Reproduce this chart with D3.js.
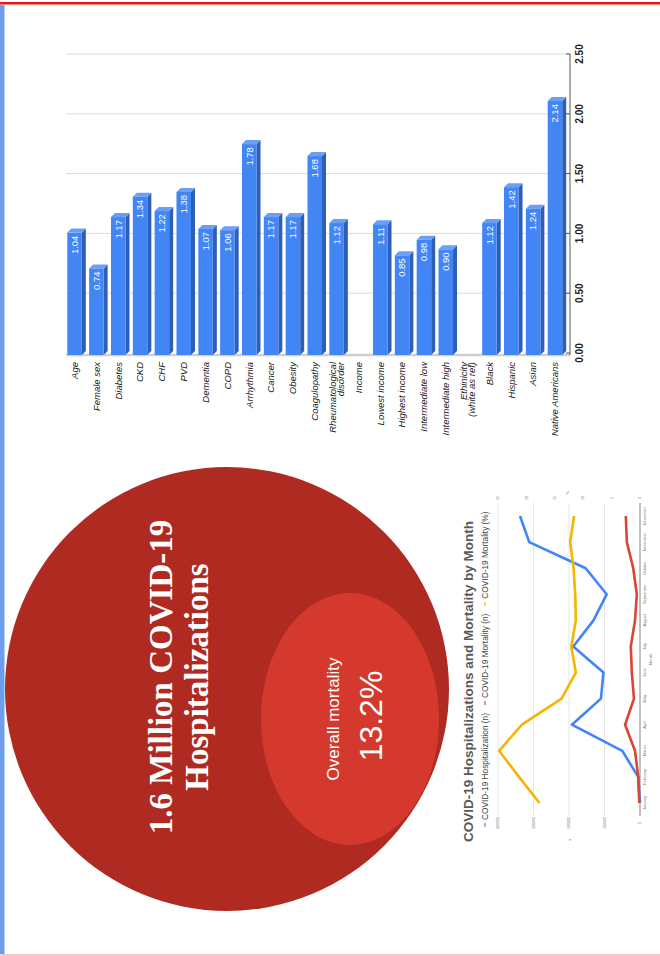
<!DOCTYPE html>
<html><head><meta charset="utf-8">
<script src="https://cdn.jsdelivr.net/npm/d3@7/dist/d3.min.js"></script>
<style>body{margin:0;background:#fff}svg{display:block}</style>
</head><body>
<svg id="c" width="660" height="956"></svg>
<script>
// ---------- data ----------
const categories = ["Age","Female sex","Diabetes","CKD","CHF","PVD","Dementia","COPD","Arrhythmia","Cancer","Obesity","Coagulopathy","Rheumatological|disorder","Income","Lowest income","Highest income","Intermediate low","Intermediate high","Ethinicity|(white as ref)","Black","Hispanic","Asian","Native Americans"];
const oddsRatios = [1.04,0.74,1.17,1.34,1.22,1.38,1.07,1.06,1.78,1.17,1.17,1.68,1.12,null,1.11,0.85,0.98,0.90,null,1.12,1.42,1.24,2.14];
const orTicks = [0,0.5,1,1.5,2,2.5];

const months = ["January","February","March","April","May","June","July","August","September","October","November","December"];
const hospitalizations = [0,5000,50000,192000,110000,103000,188000,131000,94000,153000,312000,338000];
const mortalityN = [2000,5000,14000,42000,17000,23000,26000,14000,9000,19000,37000,40000];
const mortalityPct = [17.7,21.3,24.8,20.8,13.8,11.3,12.1,11.3,11.4,11.7,12.3,11.6];
const nTicks = [0,100000,200000,300000,400000];
const pctTicks = [0,5,10,15,20,25];
const seriesNames = ["COVID-19 Hospitalization (n)","COVID-19 Mortality (n)","COVID-19 Mortality (%)"];
const seriesColors = ["#4285f4","#db4437","#f4b400"];
const lineTitle = "COVID-19 Hospitalizations and Mortality by Month";

const totalLabel = ["1.6 Million COVID-19","Hospitalizations"];
const mortalityLabel = ["Overall mortality","13.2%"];

// ---------- frame ----------
const svg = d3.select("#c");
svg.append("rect").attr("x",0).attr("y",0).attr("width",660).attr("height",956).attr("fill","#fff");
svg.append("rect").attr("x",0).attr("y",2).attr("width",660).attr("height",2.5).attr("fill","#e8141c");
svg.append("rect").attr("x",0).attr("y",5).attr("width",4.5).attr("height",951).attr("fill","#6d9eeb");
svg.append("rect").attr("x",0).attr("y",954).attr("width",660).attr("height",2).attr("fill","#f4cccc");

// ---------- bar chart ----------
const x = d3.scaleBand().domain(categories).range([67.3,562.2]).paddingInner(0.335).paddingOuter(0);
const y = d3.scaleLinear().domain([0,2.5]).range([353,54]);
const base = 355, dep = 4, bw = x.bandwidth();
const bc = svg.append("g");
bc.selectAll(".grid").data(orTicks.slice(1)).join("line")
  .attr("x1",66).attr("x2",570).attr("y1",d=>y(d)).attr("y2",d=>y(d))
  .attr("stroke","#dcdcdc").attr("stroke-width",1);
bc.append("line").attr("x1",66).attr("x2",570).attr("y1",base).attr("y2",base).attr("stroke","#cfcfcf").attr("stroke-width",2.5);
bc.append("line").attr("x1",570).attr("x2",570).attr("y1",y(2.5)).attr("y2",base).attr("stroke","#555").attr("stroke-width",1);
bc.selectAll(".tk").data(orTicks).join("line")
  .attr("x1",566).attr("x2",570).attr("y1",d=>y(d)).attr("y2",d=>y(d)).attr("stroke","#555");
bc.selectAll(".tl").data(orTicks).join("text")
  .attr("transform",d=>`translate(583,${y(d)}) rotate(-90)`)
  .attr("text-anchor","middle").attr("font-family","Liberation Sans, Arial").attr("font-weight","bold")
  .attr("font-size",10).attr("fill","#222").text(d=>d.toFixed(2));

const bars = categories.map((c,i)=>({c,v:oddsRatios[i]})).filter(d=>d.v!=null);
const bg = bc.selectAll(".bar").data(bars).join("g");
bg.append("path").attr("fill","#2d5fb6").attr("d",d=>{const x0=x(d.c)+bw,t=y(d.v);return `M${x0},${t+dep}L${x0+dep},${t}L${x0+dep},${base-dep}L${x0},${base}Z`;});
bg.append("path").attr("fill","#6a9ff7").attr("d",d=>{const x0=x(d.c),t=y(d.v);return `M${x0},${t+dep}L${x0+dep},${t}L${x0+bw+dep},${t}L${x0+bw},${t+dep}Z`;});
bg.append("rect").attr("fill","#4285f4").attr("x",d=>x(d.c)).attr("width",bw).attr("y",d=>y(d.v)+dep).attr("height",d=>base-y(d.v)-dep);
bg.append("text").attr("transform",d=>`translate(${x(d.c)+bw/2},${y(d.v)+dep+3}) rotate(-90)`)
  .attr("text-anchor","end").attr("dy","0.35em").attr("font-family","Liberation Sans, Arial")
  .attr("font-size",9.5).attr("fill","#fff").text(d=>d.v.toFixed(2));

categories.forEach(c=>{
  const lines=c.split("|"), n=lines.length;
  lines.forEach((ln,j)=>{
    const off=(j-(n-1)/2)*8.5;
    bc.append("text").attr("transform",`translate(${x(c)+bw/2+off},362) rotate(-90)`)
      .attr("text-anchor","end").attr("dy","0.35em").attr("font-family","Liberation Sans, Arial")
      .attr("font-style","italic").attr("font-size",9.5).attr("fill","#222").text(ln);
  });
});

// ---------- circles ----------
svg.append("circle").attr("cx",227).attr("cy",689).attr("r",222).attr("fill","#af2a20");
svg.append("ellipse").attr("cx",350).attr("cy",719).attr("rx",89).attr("ry",126).attr("fill","#d5392d");
svg.append("text").attr("transform","translate(172,677) rotate(-90)").attr("text-anchor","middle")
  .attr("font-family","Liberation Serif, Times New Roman").attr("font-weight","bold").attr("font-size",33)
  .attr("fill","#fff").text(totalLabel[0]);
svg.append("text").attr("transform","translate(208,677) rotate(-90)").attr("text-anchor","middle")
  .attr("font-family","Liberation Serif, Times New Roman").attr("font-weight","bold").attr("font-size",33)
  .attr("fill","#fff").text(totalLabel[1]);
svg.append("text").attr("transform","translate(339,719) rotate(-90)").attr("text-anchor","middle")
  .attr("font-family","Liberation Sans, Arial").attr("font-size",17).attr("fill","#fff").text(mortalityLabel[0]);
svg.append("text").attr("transform","translate(382,716) rotate(-90)").attr("text-anchor","middle")
  .attr("font-family","Liberation Sans, Arial").attr("font-size",32).attr("fill","#fff").text(mortalityLabel[1]);

// ---------- line chart (rotated) ----------
const lc = svg.append("g").attr("transform","translate(455,850) rotate(-90)");
const xm = d3.scalePoint().domain(months).range([34,347]).padding(0.5);
const yn = d3.scaleLinear().domain([0,400000]).range([185,43]);
const yp = d3.scaleLinear().domain([0,25]).range([185,43]);
lc.selectAll(".g").data(nTicks.slice(1)).join("line")
  .attr("x1",34).attr("x2",347).attr("y1",d=>yn(d)).attr("y2",d=>yn(d)).attr("stroke","#e0e0e0").attr("stroke-width",0.8);
lc.append("line").attr("x1",34).attr("x2",347).attr("y1",yn(0)).attr("y2",yn(0)).attr("stroke","#666").attr("stroke-width",0.8);
lc.selectAll(".nl").data(nTicks).join("text").attr("x",27).attr("y",d=>yn(d)).attr("dy","0.35em")
  .attr("text-anchor","middle").attr("font-family","Liberation Sans, Arial").attr("font-size",3.6).attr("fill","#777").text(d=>d);
lc.selectAll(".pl").data(pctTicks).join("text").attr("x",352).attr("y",d=>yp(d)).attr("dy","0.35em")
  .attr("text-anchor","middle").attr("font-family","Liberation Sans, Arial").attr("font-size",3.6).attr("fill","#777").text(d=>d);
lc.selectAll(".ml").data(months).join("text").attr("x",d=>xm(d)).attr("y",191)
  .attr("text-anchor","middle").attr("font-family","Liberation Sans, Arial").attr("font-size",4).attr("fill","#777").text(d=>d);
lc.append("text").attr("x",xm("June")+13).attr("y",197).attr("text-anchor","middle").attr("font-family","Liberation Sans, Arial").attr("font-size",4).attr("fill","#777").text("Month");
lc.append("text").attr("x",10).attr("y",116).attr("text-anchor","middle").attr("font-family","Liberation Sans, Arial").attr("font-size",4).attr("fill","#777").text("n");
lc.append("text").attr("x",357).attr("y",114).attr("text-anchor","middle").attr("font-family","Liberation Sans, Arial").attr("font-size",4).attr("fill","#777").text("%");

const seriesData = [hospitalizations, mortalityN, mortalityPct];
const scalesFor = [yn, yn, yp];
seriesData.forEach((s,k)=>{
  const ln = d3.line().x((d,i)=>xm(months[i])).y(d=>scalesFor[k](d));
  lc.append("path").attr("d",ln(s)).attr("fill","none").attr("stroke",seriesColors[k])
    .attr("stroke-width",2.6).attr("stroke-linejoin","round");
});
lc.append("text").attr("x",8).attr("y",18).attr("font-family","Liberation Sans, Arial").attr("font-weight","bold")
  .attr("font-size",13.5).attr("fill","#595959").text(lineTitle);
let lx = 23;
seriesNames.forEach((nm,k)=>{
  lc.append("line").attr("x1",lx).attr("x2",lx+4).attr("y1",30).attr("y2",30).attr("stroke",seriesColors[k]).attr("stroke-width",1.2);
  const t = lc.append("text").attr("x",lx+7).attr("y",33).attr("font-family","Liberation Sans, Arial")
    .attr("font-size",8.3).attr("fill","#444").text(nm);
  lx += 7 + t.node().getComputedTextLength() + 8;
});
</script>
</body></html>
